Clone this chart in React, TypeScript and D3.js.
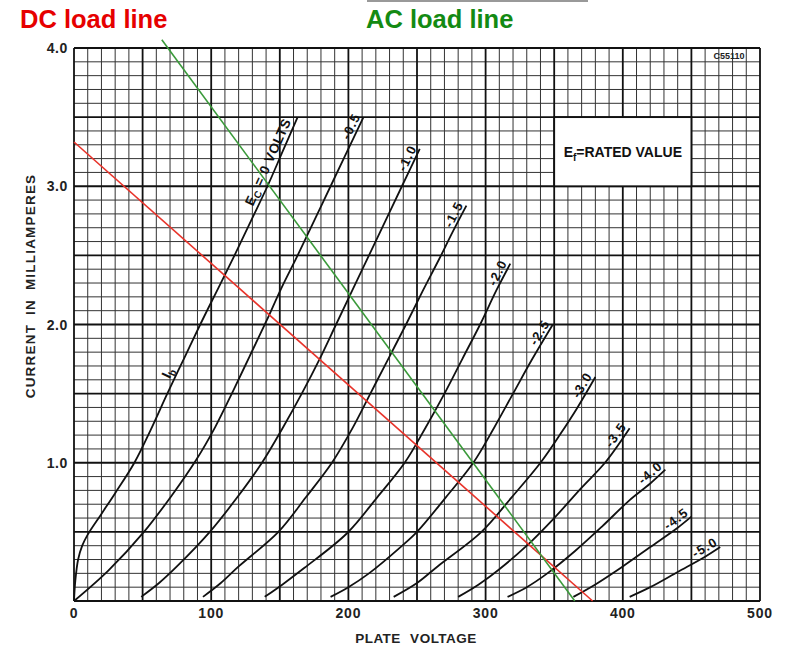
import React from "react";
import * as d3 from "d3";

// ---- data (plate voltage V, plate current mA) ----
const voltTicks = [0, 100, 200, 300, 400, 500];
const currentTicks = [1.0, 2.0, 3.0, 4.0];
const currentTickLabels = ["1.0", "2.0", "3.0", "4.0"];

const ec0: [number, number][] = [
  [0, 0], [1, 0.15], [3, 0.3], [6, 0.4], [10, 0.48], [20, 0.63], [30, 0.78], [44, 1.0],
  [56, 1.24], [68, 1.5], [80, 1.75], [92, 2.0], [105, 2.26], [117, 2.5], [129, 2.75],
  [141, 3.0], [152, 3.25], [163, 3.5],
];
const ecM05: [number, number][] = [
  [0, 0], [25, 0.22], [51, 0.5], [71, 0.76], [89, 1.02], [103, 1.26], [116, 1.52], [128, 1.77],
  [140, 2.02], [151, 2.26], [163, 2.5], [175, 2.75], [187, 3.0], [199, 3.25], [211, 3.5],
];
const ecM10: [number, number][] = [
  [49, 0.03], [62, 0.13], [75, 0.25], [99, 0.5], [119, 0.75], [137, 1.0], [152, 1.25],
  [166, 1.5], [179, 1.75], [191, 2.0], [203, 2.25], [215, 2.5], [227, 2.75], [239, 3.0], [252, 3.27],
];
const ecM15: [number, number][] = [
  [94, 0.03], [107, 0.13], [120, 0.25], [149, 0.5], [169, 0.75], [188, 1.0], [203, 1.25],
  [216, 1.5], [229, 1.75], [242, 2.0], [254, 2.24], [266, 2.47], [276, 2.67], [286, 2.86],
];
const ecM20: [number, number][] = [
  [139, 0.03], [152, 0.12], [168, 0.24], [199, 0.49], [221, 0.75], [241, 1.0], [256, 1.25],
  [270, 1.5], [283, 1.75], [296, 2.0], [308, 2.25], [318, 2.44],
];
const ecM25: [number, number][] = [
  [187, 0.03], [200, 0.1], [215, 0.2], [238, 0.39], [250, 0.5], [271, 0.75], [291, 1.0],
  [306, 1.25], [320, 1.5], [334, 1.75], [349, 2.0],
];
const ecM30: [number, number][] = [
  [233, 0.03], [250, 0.13], [265, 0.25], [297, 0.5], [319, 0.75], [340, 1.0], [354, 1.2],
  [367, 1.4], [380, 1.62],
];
const ecM35: [number, number][] = [
  [280, 0.03], [295, 0.12], [310, 0.23], [330, 0.4], [350, 0.6], [370, 0.82], [387, 1.0], [405, 1.25],
];
const ecM40: [number, number][] = [
  [316, 0.03], [330, 0.1], [345, 0.2], [365, 0.36], [385, 0.54], [405, 0.73], [420, 0.85], [431, 0.95],
];
const ecM45: [number, number][] = [
  [364, 0.03], [380, 0.12], [400, 0.25], [420, 0.39], [440, 0.53], [450, 0.61],
];
const ecM50: [number, number][] = [
  [405, 0.03], [420, 0.1], [440, 0.21], [460, 0.32], [471, 0.39],
];

const curveLabels = ["", "-0.5", "-1.0", "-1.5", "-2.0", "-2.5", "-3.0", "-3.5", "-4.0", "-4.5", "-5.0"];
const curves = [ec0, ecM05, ecM10, ecM15, ecM20, ecM25, ecM30, ecM35, ecM40, ecM45, ecM50];

const dcLoadLine: [number, number][] = [[0, 3.32], [378, 0]];
const acLoadLine: [number, number][] = [[64, 4.06], [365, 0]];

// box "Ef = RATED VALUE" region (V, mA)
const boxVolts = [350, 450];
const boxCurrents = [3.0, 3.5];

export default function App() {
  const W = 800, H = 661;
  const x = d3.scaleLinear().domain([0, 500]).range([74, 760]);
  const y = d3.scaleLinear().domain([0, 4]).range([601, 48]);

  const line = d3
    .line<[number, number]>()
    .x((d) => x(d[0]))
    .y((d) => y(d[1]))
    .curve(d3.curveCatmullRom.alpha(0.5));
  const straight = d3
    .line<[number, number]>()
    .x((d) => x(d[0]))
    .y((d) => y(d[1]));

  const vGrid = d3.range(0, 501, 10);
  const hGrid = d3.range(0, 41, 1).map((k) => k / 10);
  const isMajorV = (v: number) => v % 50 === 0;
  const isMajorH = (c: number) => Math.abs(c * 2 - Math.round(c * 2)) < 1e-6;

  const font = "'Liberation Sans', Arial, sans-serif";

  // label placement: chord from the curve end back ~chordLen px
  const labelFor = (pts: [number, number][], chordLen: number, along: number, perp: number) => {
    const px = pts.map((d) => [x(d[0]), y(d[1])]);
    const p = px[px.length - 1];
    let q = px[0];
    for (let k = px.length - 2; k >= 0; k--) {
      q = px[k];
      if (Math.hypot(p[0] - q[0], p[1] - q[1]) >= chordLen) break;
    }
    let ux = p[0] - q[0], uy = p[1] - q[1];
    const len = Math.hypot(ux, uy);
    ux /= len; uy /= len;
    const nx = uy, ny = -ux; // normal towards upper-left
    const ang = (Math.atan2(uy, ux) * 180) / Math.PI;
    const tx = p[0] + nx * perp + ux * along;
    const ty = p[1] + ny * perp + uy * along;
    return { tx, ty, ang };
  };

  // Ib label location on the Ec=0 curve
  const ibA = ec0[9], ibB = ec0[10];
  const ibx1 = x(ibA[0]), iby1 = y(ibA[1]), ibx2 = x(ibB[0]), iby2 = y(ibB[1]);
  let iux = ibx2 - ibx1, iuy = iby2 - iby1;
  const il = Math.hypot(iux, iuy);
  iux /= il; iuy /= il;
  const ibAng = (Math.atan2(iuy, iux) * 180) / Math.PI;
  const ibX = (ibx1 + ibx2) / 2 + iuy * 4;
  const ibY = (iby1 + iby2) / 2 - iux * 4;

  return (
    <svg
      width={W}
      height={H}
      style={{ position: "absolute", left: 0, top: 0, background: "#fff" }}
    >
      {/* headings */}
      <line x1={367} x2={588} y1={1} y2={1} stroke="#777" strokeWidth={1.5} />
      <text x={20} y={28} fill="#e60000" fontFamily={font} fontWeight="bold" fontSize={25.5}>
        DC load line
      </text>
      <text x={366} y={28} fill="#138a13" fontFamily={font} fontWeight="bold" fontSize={25.5}>
        AC load line
      </text>

      {/* minor grid */}
      <g stroke="#333" strokeWidth={1}>
        {vGrid.filter((v) => !isMajorV(v)).map((v) => (
          <line key={"v" + v} x1={x(v)} x2={x(v)} y1={y(0)} y2={y(4)} />
        ))}
        {hGrid.filter((c) => !isMajorH(c)).map((c) => (
          <line key={"h" + c} x1={x(0)} x2={x(500)} y1={y(c)} y2={y(c)} />
        ))}
      </g>
      {/* major grid */}
      <g stroke="#111" strokeWidth={1.8}>
        {vGrid.filter(isMajorV).map((v) => (
          <line key={"V" + v} x1={x(v)} x2={x(v)} y1={y(0)} y2={y(4)} />
        ))}
        {hGrid.filter(isMajorH).map((c) => (
          <line key={"H" + c} x1={x(0)} x2={x(500)} y1={y(c)} y2={y(c)} />
        ))}
      </g>

      {/* Ef box */}
      <rect
        x={x(boxVolts[0])}
        y={y(boxCurrents[1])}
        width={x(boxVolts[1]) - x(boxVolts[0])}
        height={y(boxCurrents[0]) - y(boxCurrents[1])}
        fill="#fff"
        stroke="#111"
        strokeWidth={1.8}
      />
      <text
        x={(x(boxVolts[0]) + x(boxVolts[1])) / 2}
        y={(y(boxCurrents[0]) + y(boxCurrents[1])) / 2 + 5}
        textAnchor="middle"
        fontFamily={font}
        fontWeight="bold"
        fontSize={14}
        fill="#111"
      >
        E<tspan fontSize={10} dy={4}>f</tspan>
        <tspan dy={-4}>=RATED VALUE</tspan>
      </text>

      <text x={729} y={59} textAnchor="middle" fontFamily={font} fontSize={9} fontWeight="bold" fill="#222">
        C55110
      </text>

      {/* plate curves */}
      <g fill="none" stroke="#111" strokeWidth={1.8}>
        {curves.map((c, i) => (
          <path key={i} d={line(c) || ""} />
        ))}
      </g>

      {/* curve labels */}
      {curves.map((c, i) => {
        if (i === 0) {
          const { tx, ty, ang } = labelFor(c, 90, -6, 4);
          return (
            <text
              key={"l" + i}
              transform={`translate(${tx},${ty}) rotate(${ang})`}
              textAnchor="end"
              fontFamily={font}
              fontWeight="bold"
              fontSize={13.5}
              letterSpacing={0.6}
              fill="#111"
            >
              E<tspan fontSize={10} dy={3}>C</tspan>
              <tspan dy={-3}> = 0 VOLTS</tspan>
            </text>
          );
        }
        const { tx, ty, ang } = labelFor(c, 32, 0, 3);
        return (
          <text
            key={"l" + i}
            transform={`translate(${tx},${ty}) rotate(${ang})`}
            textAnchor="end"
            fontFamily={font}
            fontWeight="bold"
            fontSize={13}
            letterSpacing={1.2}
            fill="#111"
          >
            {curveLabels[i]}
          </text>
        );
      })}
      <text
        transform={`translate(${ibX},${ibY}) rotate(${ibAng})`}
        textAnchor="middle"
        fontFamily={font}
        fontWeight="bold"
        fontSize={14}
        fill="#111"
      >
        I<tspan fontSize={10} dy={3}>b</tspan>
      </text>

      {/* load lines */}
      <path d={straight(dcLoadLine) || ""} stroke="#e8332a" strokeWidth={1.6} fill="none" />
      <path d={straight(acLoadLine) || ""} stroke="#3a9a3a" strokeWidth={1.6} fill="none" />

      {/* axis tick labels */}
      {voltTicks.map((v) => (
        <text
          key={"xt" + v}
          x={x(v)}
          y={618}
          textAnchor="middle"
          fontFamily={font}
          fontWeight="bold"
          fontSize={14}
          letterSpacing={0.8}
          fill="#222"
        >
          {v}
        </text>
      ))}
      {currentTicks.map((c, i) => (
        <text
          key={"yt" + c}
          x={68}
          y={y(c) + 5}
          textAnchor="end"
          fontFamily={font}
          fontWeight="bold"
          fontSize={14}
          letterSpacing={0.6}
          fill="#222"
        >
          {currentTickLabels[i]}
        </text>
      ))}

      {/* axis titles */}
      <text
        x={416}
        y={643}
        textAnchor="middle"
        fontFamily={font}
        fontWeight="bold"
        fontSize={13.5}
        letterSpacing={0.5}
        wordSpacing={5}
        fill="#222"
      >
        PLATE VOLTAGE
      </text>
      <text
        transform={`translate(35,286) rotate(-90)`}
        textAnchor="middle"
        fontFamily={font}
        fontWeight="bold"
        fontSize={13.5}
        letterSpacing={1.2}
        wordSpacing={4}
        fill="#222"
      >
        CURRENT IN MILLIAMPERES
      </text>
    </svg>
  );
}
